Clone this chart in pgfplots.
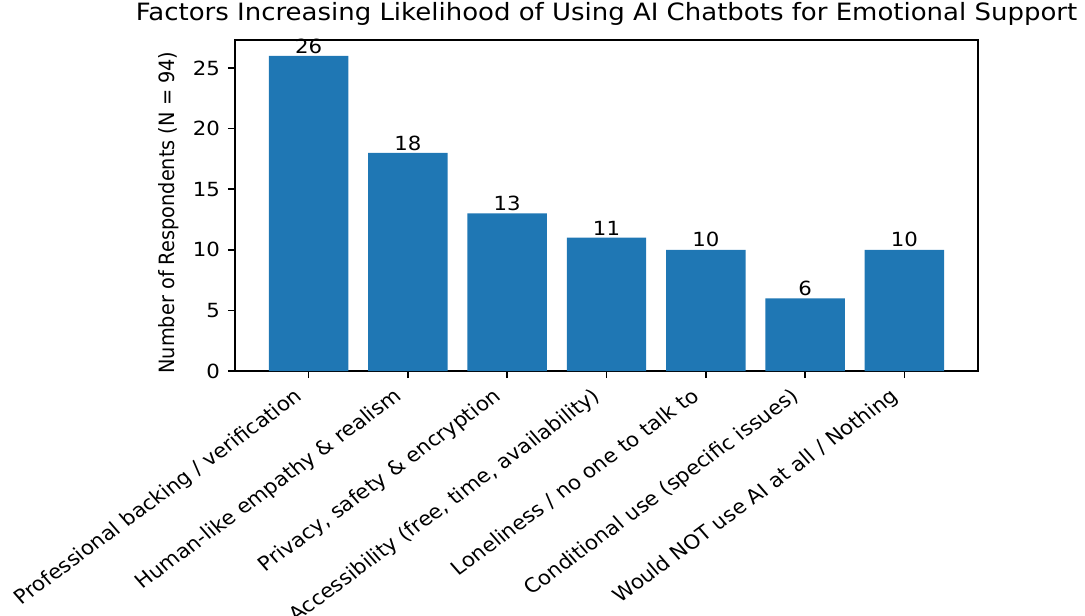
\documentclass[border=0pt]{standalone}
\usepackage{fontspec}
\setmainfont{DejaVu Sans}
\usepackage{pgfplots}
\pgfplotsset{compat=1.18}
\definecolor{barblue}{HTML}{1F77B4}
\begin{document}
\begin{tikzpicture}
\path[use as bounding box] (-130.2pt,-135.7pt) rectangle (470.8pt,205.5pt);
\begin{axis}[
  at={(0,0)}, anchor=south west,
  width=411.5pt, height=183.3pt,
  scale only axis,
  ybar, bar width=0.8,
  xmin=-0.74, xmax=6.74,
  ymin=0, ymax=27.3,
  xtick=data,
  xticklabels={Professional backing / verification, Human-like empathy \& realism, {Privacy, safety \& encryption}, {Accessibility (free, time, availability)}, Loneliness / no one to talk to, Conditional use (specific issues), Would NOT use AI at all / Nothing},
  ytick={0,5,10,15,20,25},
  tick align=outside,
  xtick pos=bottom, ytick pos=left,
  major tick length=4pt,
  every tick/.style={black, line width=0.8pt},
  axis line style={line width=0.8pt},
  /pgf/number format/assume math mode=true,
  tick label style={font=\fontsize{10.8}{13}\selectfont, text=black},
  x tick label style={xshift=-8.5pt, yshift=-4.5pt, xscale=1.09, rotate=38.7, anchor=north east, inner sep=0pt, font=\fontsize{10.9}{13}\selectfont},
  y tick label style={xshift=-4.2pt, xscale=1.09, anchor=east, inner sep=0pt},
  ylabel={Number of Respondents (N = 94)},
  ylabel style={at={(axis description cs:-0.0888,0.479)}, anchor=center, yscale=1.09, font=\fontsize{10.7}{13}\selectfont, text=black},
  title={Factors Increasing Likelihood of Using AI Chatbots for Emotional Support},
  title style={at={(axis description cs:0.5,1)}, anchor=base, yshift=5pt, xscale=1.09, font=\fontsize{13.2}{15}\selectfont, text=black, inner sep=0pt},
  nodes near coords,
  nodes near coords style={anchor=south, inner sep=0pt, yshift=1.2pt, xscale=1.09, font=\fontsize{10.8}{13}\selectfont, text=black},
]
\addplot[fill=barblue, draw=none] coordinates {(0,26) (1,18) (2,13) (3,11) (4,10) (5,6) (6,10)};
\end{axis}
\end{tikzpicture}
\end{document}
